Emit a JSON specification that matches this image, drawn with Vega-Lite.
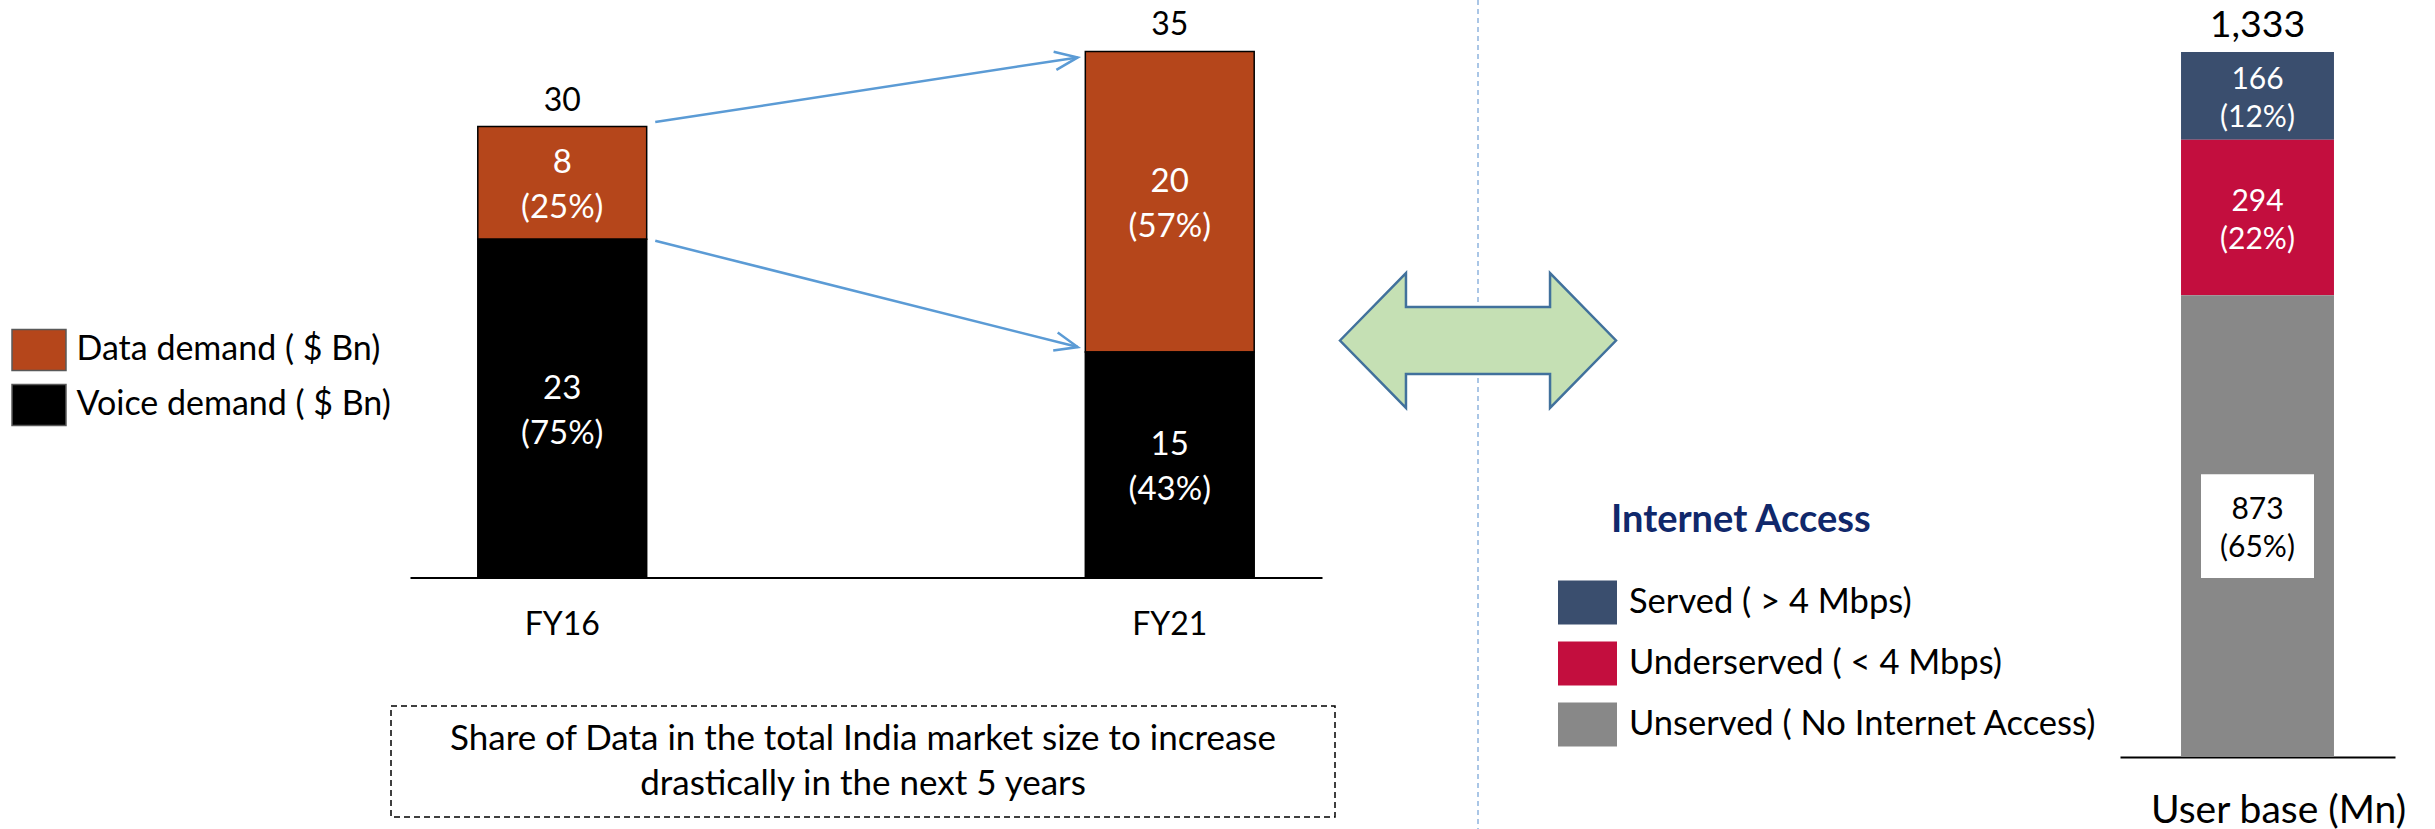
{
  "$schema": "https://vega.github.io/schema/vega-lite/v6.json",
  "width": 2435,
  "height": 829,
  "autosize": {"type": "none"},
  "padding": 0,
  "background": "white",
  "config": {
    "font": "Lato",
    "view": {"stroke": null},
    "axis": {"grid": false, "labelFont": "Lato"},
    "legend": {"labelFont": "Lato", "titleFont": "Lato"},
    "text": {"font": "Lato"}
  },
  "resolve": {
    "scale": {"x": "independent", "y": "independent", "color": "independent"},
    "axis": {"x": "independent", "y": "independent"},
    "legend": {"color": "independent"}
  },
  "layer": [
    {
      "data": {"values": [
        {"year": "FY16", "segment": "Data demand ( $ Bn)", "value": 7.5, "label": "8\n(25%)"},
        {"year": "FY16", "segment": "Voice demand ( $ Bn)", "value": 22.5, "label": "23\n(75%)"},
        {"year": "FY21", "segment": "Data demand ( $ Bn)", "value": 20, "label": "20\n(57%)"},
        {"year": "FY21", "segment": "Voice demand ( $ Bn)", "value": 15, "label": "15\n(43%)"}
      ]},
      "layer": [
        {
          "mark": {"type": "bar", "stroke": "#000000", "strokeWidth": 1.5},
          "encoding": {
            "x": {"field": "year", "type": "nominal",
              "scale": {"type": "band", "domain": ["FY16", "FY21"], "range": [410, 1322], "paddingInner": 0.722, "paddingOuter": 0.1116},
              "axis": {"orient": "bottom", "offset": -251.5, "title": null, "ticks": false, "tickSize": 0, "domainColor": "#000000", "domainWidth": 2, "labelFontSize": 32, "labelColor": "#000000", "labelPadding": 32, "labelAngle": 0}},
            "y": {"field": "value", "type": "quantitative", "stack": "zero",
              "scale": {"domain": [0, 35], "range": [577.5, 51.4], "nice": false, "zero": true}, "axis": null},
            "color": {"field": "segment", "type": "nominal",
              "scale": {"domain": ["Data demand ( $ Bn)", "Voice demand ( $ Bn)"], "range": ["#B5461B", "#000000"]},
              "legend": {"title": null, "orient": "none", "legendX": 11, "legendY": 322, "padding": 0, "rowPadding": 3, "labelOffset": 9.5, "labelFontSize": 34, "labelColor": "#000000", "labelLimit": 600, "symbolType": "M -1 -0.76 H 1 V 0.76 H -1 Z", "symbolSize": 2916, "symbolStrokeColor": "#595959", "symbolStrokeWidth": 1.5}},
            "order": {"field": "segment", "sort": "descending"}
          }
        },
        {
          "mark": {"type": "text", "color": "#FFFFFF", "fontSize": 33, "lineBreak": "\n", "lineHeight": 45, "baseline": "middle", "dy": -19.5},
          "encoding": {
            "x": {"field": "year", "type": "nominal"},
            "y": {"field": "value", "type": "quantitative", "stack": "zero", "bandPosition": 0.5},
            "detail": {"field": "segment"},
            "order": {"field": "segment", "sort": "descending"},
            "text": {"field": "label", "type": "nominal"}
          }
        },
        {
          "data": {"values": [
            {"year": "FY16", "total": 30, "label": "30"},
            {"year": "FY21", "total": 35, "label": "35"}
          ]},
          "mark": {"type": "text", "color": "#000000", "fontSize": 32, "baseline": "alphabetic", "dy": -16},
          "encoding": {
            "x": {"field": "year", "type": "nominal"},
            "y": {"field": "total", "type": "quantitative"},
            "text": {"field": "label", "type": "nominal"}
          }
        },
        {
          "data": {"values": [
            {"from": "FY16", "to": "FY21", "start": 30.3, "end": 34.6, "arrow": "total"},
            {"from": "FY16", "to": "FY21", "start": 22.4, "end": 15.33, "arrow": "split"}
          ]},
          "layer": [
            {
              "mark": {"type": "rule", "color": "#5B9BD5", "strokeWidth": 2.5, "xOffset": 93, "x2Offset": -92},
              "encoding": {
                "x": {"field": "from", "type": "nominal"},
                "x2": {"field": "to"},
                "y": {"field": "start", "type": "quantitative"},
                "y2": {"field": "end"}
              }
            },
            {
              "transform": [{"filter": {"field": "arrow", "equal": "total"}}],
              "mark": {"type": "point", "shape": "M -1 -0.4 L 0 0 L -1 0.4", "size": 2116, "filled": false, "stroke": "#5B9BD5", "strokeWidth": 2.5, "opacity": 1, "angle": 351.4, "xOffset": -92},
              "encoding": {
                "x": {"field": "to", "type": "nominal"},
                "y": {"field": "end", "type": "quantitative"}
              }
            },
            {
              "transform": [{"filter": {"field": "arrow", "equal": "split"}}],
              "mark": {"type": "point", "shape": "M -1 -0.4 L 0 0 L -1 0.4", "size": 2116, "filled": false, "stroke": "#5B9BD5", "strokeWidth": 2.5, "opacity": 1, "angle": 14.1, "xOffset": -92},
              "encoding": {
                "x": {"field": "to", "type": "nominal"},
                "y": {"field": "end", "type": "quantitative"}
              }
            }
          ]
        }
      ]
    },
    {
      "data": {"values": [
        {"cat": "User base (Mn)", "segment": "Served ( > 4 Mbps)", "value": 166, "label": "166\n(12%)"},
        {"cat": "User base (Mn)", "segment": "Underserved ( < 4 Mbps)", "value": 294, "label": "294\n(22%)"},
        {"cat": "User base (Mn)", "segment": "Unserved ( No Internet Access)", "value": 873, "label": "873\n(65%)"}
      ]},
      "layer": [
        {
          "mark": {"type": "bar"},
          "encoding": {
            "x": {"field": "cat", "type": "nominal",
              "scale": {"type": "band", "range": [2120, 2395], "paddingInner": 0, "paddingOuter": 0.399},
              "axis": {"orient": "bottom", "offset": -72, "title": null, "ticks": false, "tickSize": 0, "domainColor": "#000000", "domainWidth": 2, "labelFontSize": 39, "labelColor": "#000000", "labelPadding": 34, "labelOffset": 21, "labelAngle": 0, "labelLimit": 600}},
            "y": {"field": "value", "type": "quantitative", "stack": "zero",
              "scale": {"domain": [0, 1333], "range": [757, 52], "nice": false, "zero": true}, "axis": null},
            "color": {"field": "segment", "type": "nominal",
              "scale": {"domain": ["Served ( > 4 Mbps)", "Underserved ( < 4 Mbps)", "Unserved ( No Internet Access)"], "range": ["#3A4E6E", "#C30E3E", "#888888"]},
              "legend": {"title": "Internet Access", "orient": "none", "legendX": 1611, "legendY": 502, "padding": 0, "titleFontSize": 38, "titleFontWeight": "bold", "titleColor": "#10286B", "titleBaseline": "top", "titlePadding": 33, "titleLimit": 600, "rowPadding": 9, "symbolOffset": -53, "labelOffset": 12, "labelFontSize": 34.5, "labelColor": "#000000", "labelLimit": 600, "symbolType": "M -1 -0.746 H 1 V 0.746 H -1 Z", "symbolSize": 3481, "symbolStrokeWidth": 0}},
            "order": {"field": "segment", "sort": "descending"}
          }
        },
        {
          "transform": [{"filter": {"field": "segment", "equal": "Unserved ( No Internet Access)"}}],
          "mark": {"type": "point", "shape": "M -1 -0.92 H 1 V 0.92 H -1 Z", "size": 12769, "filled": true, "color": "#FFFFFF", "opacity": 1, "strokeWidth": 0},
          "encoding": {
            "x": {"field": "cat", "type": "nominal"},
            "y": {"field": "value", "type": "quantitative", "stack": "zero", "bandPosition": 0.5},
            "detail": {"field": "segment"},
            "order": {"field": "segment", "sort": "descending"}
          }
        },
        {
          "mark": {"type": "text", "fontSize": 30, "lineBreak": "\n", "lineHeight": 38, "baseline": "middle", "dy": -16},
          "encoding": {
            "x": {"field": "cat", "type": "nominal"},
            "y": {"field": "value", "type": "quantitative", "stack": "zero", "bandPosition": 0.5},
            "detail": {"field": "segment"},
            "order": {"field": "segment", "sort": "descending"},
            "text": {"field": "label", "type": "nominal"},
            "color": {"condition": {"test": "datum.segment === 'Unserved ( No Internet Access)'", "value": "#000000"}, "value": "#FFFFFF"}
          }
        },
        {
          "data": {"values": [{"cat": "User base (Mn)", "total": 1333, "label": "1,333"}]},
          "mark": {"type": "text", "color": "#000000", "fontSize": 37.5, "baseline": "alphabetic", "dy": -15},
          "encoding": {
            "x": {"field": "cat", "type": "nominal"},
            "y": {"field": "total", "type": "quantitative"},
            "text": {"field": "label", "type": "nominal"}
          }
        }
      ]
    },
    {
      "data": {"values": [{"note": "Share of Data in the total India market size to increase\ndrastically in the next 5 years"}]},
      "layer": [
        {
          "mark": {"type": "rect", "fill": "#FFFFFF", "stroke": "#000000", "strokeWidth": 1.5, "strokeDash": [6, 4]},
          "encoding": {
            "x": {"field": "note", "type": "nominal", "scale": {"type": "band", "range": [391, 1335], "paddingInner": 0, "paddingOuter": 0}, "axis": null},
            "y": {"field": "note", "type": "nominal", "scale": {"type": "band", "range": [706, 817], "paddingInner": 0, "paddingOuter": 0}, "axis": null}
          }
        },
        {
          "mark": {"type": "text", "fontSize": 35, "lineBreak": "\n", "lineHeight": 45, "baseline": "middle", "color": "#000000", "dy": -22.5},
          "encoding": {
            "x": {"field": "note", "type": "nominal"},
            "y": {"field": "note", "type": "nominal"},
            "text": {"field": "note", "type": "nominal"}
          }
        }
      ]
    },
    {
      "data": {"values": [{"link": "market size vs user base"}]},
      "layer": [
        {
          "mark": {"type": "rule", "color": "#8FB4DE", "strokeWidth": 1.5, "strokeDash": [5, 4]},
          "encoding": {
            "x": {"field": "link", "type": "nominal", "scale": {"type": "band", "range": [1400, 1556]}, "axis": null}
          }
        },
        {
          "mark": {"type": "point", "shape": "M -1 0 L -0.522 -0.489 L -0.522 -0.243 L 0.522 -0.243 L 0.522 -0.489 L 1 0 L 0.522 0.489 L 0.522 0.243 L -0.522 0.243 L -0.522 0.489 Z", "size": 76176, "filled": true, "fill": "#C5E0B4", "stroke": "#41719C", "strokeWidth": 2.5, "opacity": 1},
          "encoding": {
            "x": {"field": "link", "type": "nominal"},
            "y": {"field": "link", "type": "nominal", "scale": {"type": "band", "range": [273, 408]}, "axis": null}
          }
        }
      ]
    }
  ]
}
